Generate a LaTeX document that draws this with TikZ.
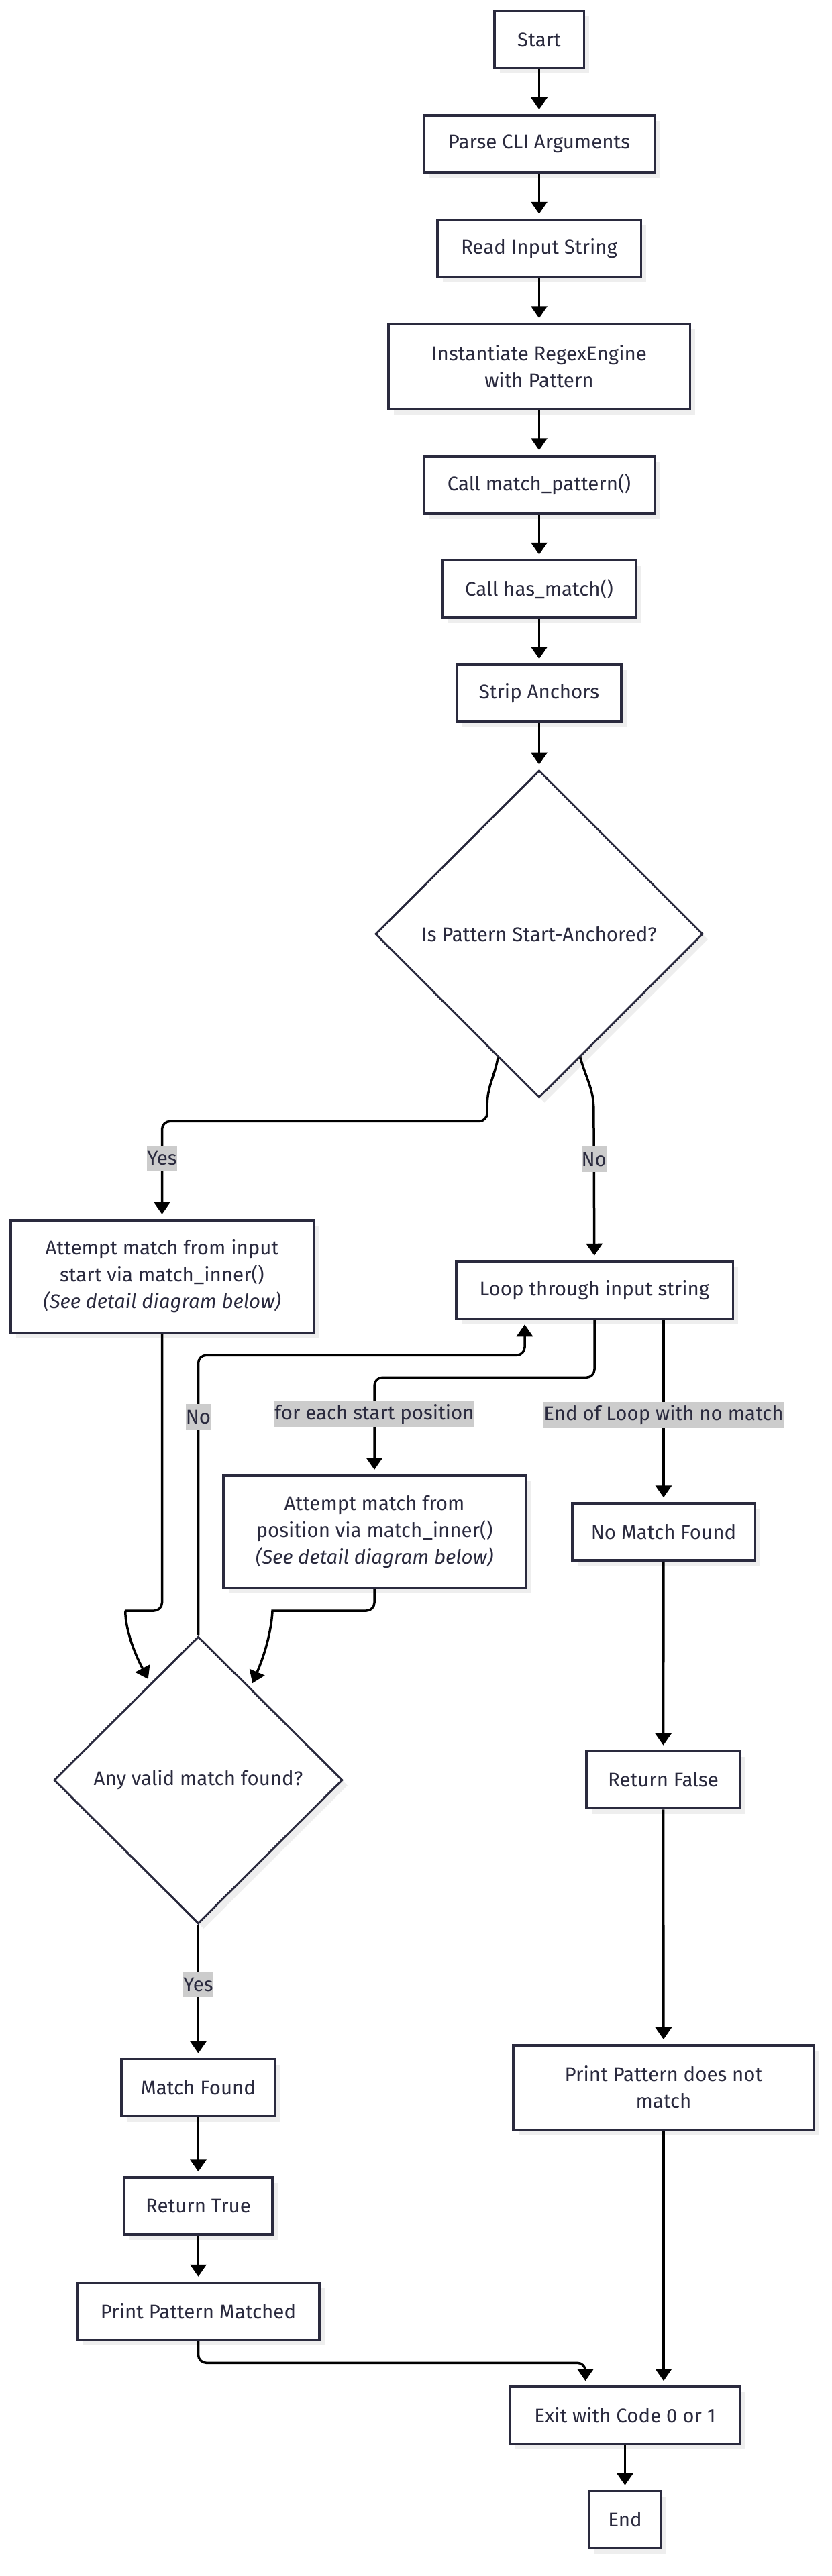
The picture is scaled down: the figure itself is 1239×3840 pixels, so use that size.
\documentclass[tikz,border=0pt]{standalone}
\usepackage{fontspec}
\setmainfont{Fira Sans}
\usetikzlibrary{shapes.geometric, arrows.meta, positioning, calc, shadows}
\definecolor{ink}{RGB}{42, 42, 62}
\definecolor{wire}{RGB}{0, 0, 0}
\definecolor{tagfill}{RGB}{204, 204, 204}
\definecolor{shadowgray}{RGB}{238, 238, 238}

\begin{document}
\begin{tikzpicture}[x=1pt, y=1pt, node distance=67pt,
    box/.style={draw=ink, line width=3.5pt, fill=white, text=ink, align=center,
        minimum height=85pt, font=\fontsize{29.5}{40}\selectfont,
        drop shadow={shadow xshift=8pt, shadow yshift=-8pt, fill=shadowgray, opacity=1}},
    decision/.style={box, diamond, aspect=1, line width=3pt},
    flow/.style={draw=wire, line width=3.5pt, -{Triangle[length=18pt, width=24pt]}, shorten >=7pt},
    tag/.style={fill=tagfill, text=ink, sharp corners, inner sep=0pt, minimum height=38pt, font=\fontsize{29.5}{40}\selectfont}]
    \useasboundingbox (0,0) rectangle (1239,-3840);

    % main spine
    \node[box, minimum width=133.5pt] (start) at (803.5,-59) {Start};
    \node[box, minimum width=344.5pt, below=of start] (parse) {Parse CLI Arguments};
    \node[box, minimum width=303.5pt, below=of parse] (read) {Read Input String};
    \node[box, minimum width=449.5pt, minimum height=126.5pt, below=of read] (inst) {Instantiate RegexEngine\\with Pattern};
    \node[box, minimum width=344.5pt, below=of inst] (callpat) {Call match\_pattern()};
    \node[box, minimum width=288.5pt, below=of callpat] (hasmatch) {Call has\_match()};
    \node[box, minimum width=244.5pt, below=of hasmatch] (strip) {Strip Anchors};
    \node[decision, minimum width=488pt, minimum height=488pt, below=69pt of strip] (anchored) {Is Pattern Start-Anchored?};

    % branches
    \node[box, minimum width=451.5pt, minimum height=167.5pt] (attstart) at (241.5,-1902.5) {Attempt match from input\\start via match\_inner()\\\textit{(See detail diagram below)}};
    \node[box, minimum width=412.5pt] (loop) at (886,-1923) {Loop through input string};
    \node[box, minimum width=450.5pt, minimum height=167.5pt] (attpos) at (558,-2283.5) {Attempt match from\\position via match\_inner()\\\textit{(See detail diagram below)}};
    \node[box, minimum width=272.5pt] (nomatch) at (989,-2283.5) {No Match Found};
    \node[decision, minimum width=430pt, minimum height=428pt] (anyvalid) at (295.5,-2653.5) {Any valid match found?};
    \node[box, minimum width=229.5pt] (retfalse) at (988.5,-2653) {Return False};
    \node[box, minimum width=229.5pt] (found) at (295.5,-3112) {Match Found};
    \node[box, minimum width=220.5pt, below=88pt of found] (rettrue) {Return True};
    \node[box, minimum width=360.5pt, below=68pt of rettrue] (printok) {Print Pattern Matched};
    \node[box, minimum width=448.5pt, minimum height=125.5pt] (printfail) at (989,-3111.5) {Print Pattern does not\\match};
    \node[box, minimum width=343.5pt] (exit) at (931.5,-3600.5) {Exit with Code 0 or 1};
    \node[box, minimum width=107.5pt, below=of exit] (stop) {End};

    \coordinate (yesout) at ($(anchored.south)!0.25!(anchored.west)$);
    \coordinate (noout) at ($(anchored.south)!0.25!(anchored.east)$);
    \coordinate (joinleft) at ($(anyvalid.north)!0.33!(anyvalid.west)$);
    \coordinate (joinright) at ($(anyvalid.north)!0.36!(anyvalid.east)$);
    \coordinate (loopin) at ($(loop.south west)!0.25!(loop.south east)$);
    \coordinate (exitin) at ($(exit.north west)!0.33!(exit.north east)$);

    \draw[flow] (start) -- (parse);
    \draw[flow] (parse) -- (read);
    \draw[flow] (read) -- (inst);
    \draw[flow] (inst) -- (callpat);
    \draw[flow] (callpat) -- (hasmatch);
    \draw[flow] (hasmatch) -- (strip);
    \draw[flow] (strip) -- (anchored);

    \draw[flow] (yesout) to[out=-100, in=90] ++(-16,-72) [rounded corners=12pt] -- ++(0,-23) -| node[tag, pos=0.69] {Yes} (attstart);
    \draw[flow] (noout) to[out=-75, in=90] ++(20,-78) -- node[tag, pos=0.33] {No} (loop);
    \draw[flow, rounded corners=12pt] (loop.south) -- ++(0,-86) -| node[tag, pos=0.69] {for each start position} (attpos);
    \draw[flow] (loop.south -| nomatch) -- node[tag, pos=0.52] {End of Loop with no match} (nomatch);

    \draw[flow] (attstart.south) [rounded corners=12pt] -- ++(0,-413) -- ++(-42,0) [sharp corners] .. controls +(-14,0) and +(-37,70) .. (joinleft);
    \draw[flow] (attpos.south) [rounded corners=12pt] -- ++(0,-32) -- ++(-140,0) [sharp corners] .. controls +(-12,0) and +(32,75) .. (joinright);
    \draw[flow, rounded corners=12pt] (anyvalid.north) |- node[tag, pos=0.39] {No} ($(loopin)+(0,-53)$) -- (loopin);
    \draw[flow] (anyvalid) -- node[tag, pos=0.45] {Yes} (found);

    \draw[flow] (found) -- (rettrue);
    \draw[flow] (rettrue) -- (printok);
    \draw[flow, rounded corners=12pt] (printok.south) -- ++(0,-33) -| (exitin);
    \draw[flow] (nomatch) -- (retfalse);
    \draw[flow] (retfalse) -- (printfail);
    \draw[flow] (printfail.south) -- (printfail.south |- exit.north);
    \draw[flow] (exit) -- (stop);
\end{tikzpicture}
\end{document}
